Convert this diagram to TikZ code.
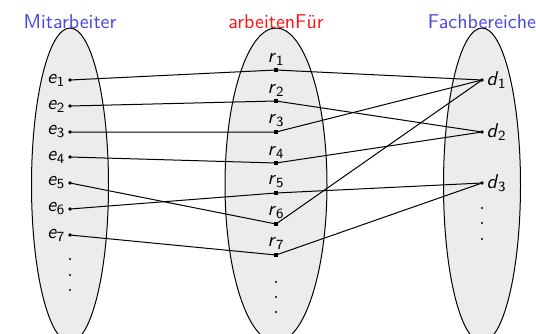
\documentclass[tikz,border=0pt]{standalone}
\usetikzlibrary{shapes.geometric}
\definecolor{titleblue}{RGB}{70,70,225}
\definecolor{titlered}{RGB}{250,20,20}
\definecolor{setgray}{RGB}{236,236,236}
\newcommand{\lbl}[2]{\textit{#1}\textsubscript{#2}}
\begin{document}
\begin{tikzpicture}[x=0.5pt,y=-0.5pt,font=\sffamily,
  setfill/.style={draw=black,line width=0.5pt,fill=setgray},
  pt/.style={circle,fill=black,inner sep=0pt,minimum size=1.8pt},
  sq/.style={rectangle,fill=black,inner sep=0pt,minimum size=2.2pt},
  link/.style={line width=0.5pt},
  dotc/.style={circle,fill=black,inner sep=0pt,minimum size=1.1pt},
  title/.style={anchor=base,inner sep=0pt}]
\useasboundingbox (0,0) rectangle (536,333);
\clip (0,0) rectangle (536,333);
% sets
\draw[setfill] (70,185) ellipse [x radius=38.5, y radius=157];
\draw[setfill] (276,185) ellipse [x radius=51, y radius=157];
\draw[setfill] (482,185) ellipse [x radius=38.5, y radius=157];
% titles
\node[title,text=titleblue] (tm) at (70,28) {Mitarbeiter};
\node[title,text=titlered] (ta) at (276,28) {arbeitenFür};
\node[title,text=titleblue] (tf) at (482,28) {Fachbereiche};
% employees
\foreach \i/\y in {1/80,2/106,3/132,4/157,5/183,6/209,7/235}{
  \node[pt] (e\i) at (70,\y) {};
  \node[anchor=east,inner sep=1pt] (le\i) at (e\i.west) {\lbl{e}{\i}};
}
% relationships
\foreach \i/\y in {1/70,2/101,3/132,4/163,5/193,6/224,7/255}{
  \node[sq] (r\i) at (276,\y) {};
  \node[anchor=south,inner sep=1pt] (lr\i) at (r\i.north) {\lbl{r}{\i}};
}
% departments
\foreach \i/\y in {1/80,2/132,3/183}{
  \node[pt] (d\i) at (482,\y) {};
  \node[anchor=west,inner sep=1pt] (ld\i) at (d\i.east) {\lbl{d}{\i}};
}
% vertical dots
\foreach \y in {259,275,290}{ \node[dotc] at (70,\y) {}; }
\foreach \y in {282,297,312}{ \node[dotc] at (276,\y) {}; }
\foreach \y in {208,223,239}{ \node[dotc] at (482,\y) {}; }
% connectors
\draw[link] (e1.center) -- (r1.center) -- (d1.center);
\draw[link] (e2.center) -- (r2.center) -- (d2.center);
\draw[link] (e3.center) -- (r3.center) -- (d1.center);
\draw[link] (e4.center) -- (r4.center) -- (d2.center);
\draw[link] (e5.center) -- (r6.center) -- (d1.center);
\draw[link] (e6.center) -- (r5.center) -- (d3.center);
\draw[link] (e7.center) -- (r7.center) -- (d3.center);
\end{tikzpicture}
\end{document}
